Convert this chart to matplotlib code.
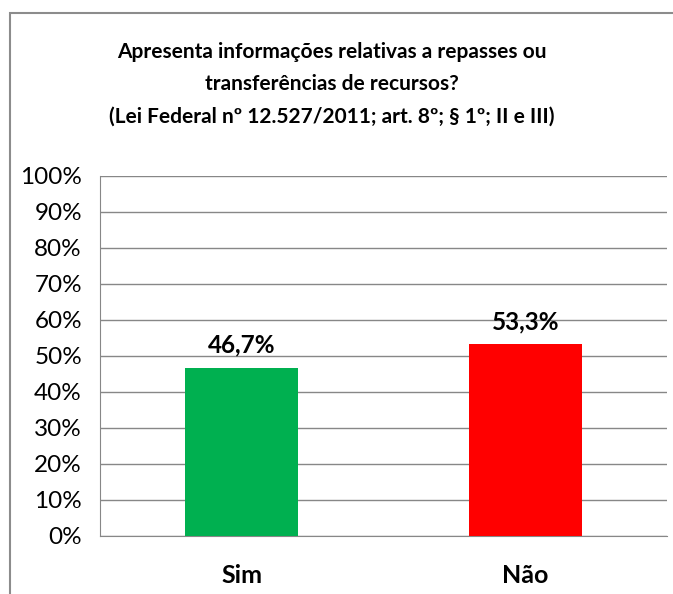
import matplotlib.pyplot as plt
from matplotlib.patches import Rectangle
from matplotlib.ticker import FuncFormatter

# Data
categories = ["Sim", "Não"]
values = [46.7, 53.3]
bar_colors = ["#00b050", "#ff0000"]
title = ("Apresenta informações relativas a repasses ou\n"
         "transferências de recursos?\n"
         "(Lei Federal nº 12.527/2011; art. 8º; § 1º; II e III)")

plt.rcParams["font.family"] = ["Lato", "DejaVu Sans"]
grey = "#878787"

fig = plt.figure(figsize=(6.73, 5.94), dpi=100)
ax = fig.add_axes([100 / 673, 58 / 594, 567 / 673, 360 / 594])

x = range(len(categories))
bars = ax.bar(x, values, width=0.40, color=bar_colors, zorder=3)

for bar, v in zip(bars, values):
    ax.annotate(f"{v:.1f}%".replace(".", ","),
                (bar.get_x() + bar.get_width() / 2, v),
                xytext=(0, 8), textcoords="offset points",
                ha="center", va="bottom", fontsize=17.5, fontweight="bold")

ax.set_xlim(-0.5, 1.5)
ax.set_ylim(0, 100)
ax.set_yticks(range(0, 101, 10))
ax.yaxis.set_major_formatter(FuncFormatter(lambda v, _: f"{v:.0f}%"))
ax.set_xticks(list(x))
ax.set_xticklabels(categories, fontsize=18, fontweight="bold")
ax.tick_params(axis="y", length=0, pad=13, labelsize=17.5)
ax.tick_params(axis="x", length=0, pad=20)
ax.grid(axis="y", color=grey, linewidth=1, zorder=0)

for side in ["top", "right"]:
    ax.spines[side].set_visible(False)
ax.spines["left"].set_color(grey)
ax.spines["bottom"].set_color(grey)

fig.text(332 / 673, 1 - 84 / 594, title, ha="center", va="center",
         fontsize=15, fontweight="bold", linespacing=1.78)

# chart border
fig.patches.append(Rectangle((10 / 673, -0.1), 1.0, (594 - 13) / 594 + 0.1,
                             transform=fig.transFigure, fill=False,
                             edgecolor="#8c8c8c", linewidth=1.5))

plt.savefig("out.png", dpi=100)
